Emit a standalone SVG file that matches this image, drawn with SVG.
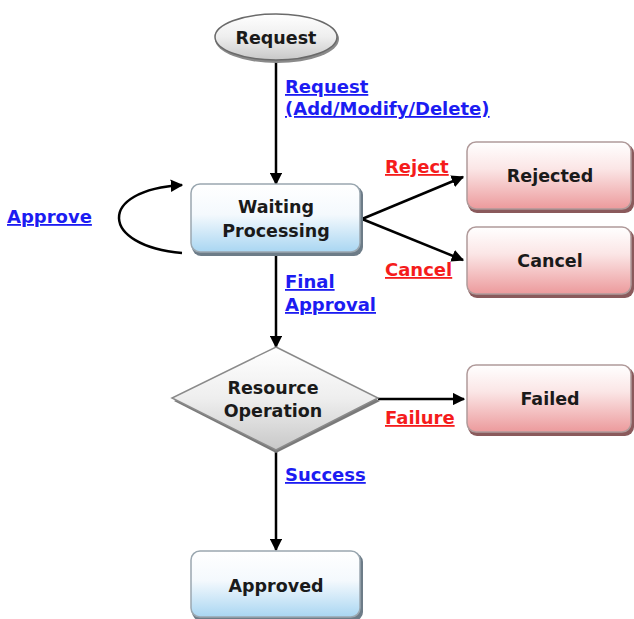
<svg xmlns="http://www.w3.org/2000/svg" width="634" height="619" viewBox="0 0 634 619">
<defs>
<linearGradient id="gBlue" x1="0" y1="0" x2="0" y2="1">
<stop offset="0" stop-color="#ffffff"/><stop offset="0.45" stop-color="#f4f9fd"/><stop offset="1" stop-color="#a9d6f2"/>
</linearGradient>
<linearGradient id="gRed" x1="0" y1="0" x2="0" y2="1">
<stop offset="0" stop-color="#ffffff"/><stop offset="0.4" stop-color="#fbe6e6"/><stop offset="1" stop-color="#ec9a9c"/>
</linearGradient>
<linearGradient id="gGray" x1="0" y1="0" x2="0" y2="1">
<stop offset="0" stop-color="#ffffff"/><stop offset="0.5" stop-color="#eeeeee"/><stop offset="1" stop-color="#c8c8c8"/>
</linearGradient>
<marker id="arr" viewBox="0 0 10 10" refX="9" refY="5" markerWidth="5" markerHeight="5" orient="auto" markerUnits="strokeWidth">
<path d="M0,0 L10,5 L0,10 z" fill="#000"/>
</marker>
</defs>
<style>
.node text{font-family:"DejaVu Sans",Verdana,sans-serif;font-weight:bold;font-size:17.5px;fill:#1a1a1a;text-anchor:middle}
.lbl{font-family:"DejaVu Sans",Verdana,sans-serif;font-weight:bold;font-size:18px;text-decoration:underline}
.blue{fill:#1c1cf2}
.red{fill:#f51c1c}
.edge{stroke:#000;stroke-width:2.5;fill:none;marker-end:url(#arr)}
.shB{fill:#6d7c88}
.shR{fill:#8a5a5c}
.shG{fill:#7a7a7a}
</style>

<g id="connectors">
<line class="edge" x1="276" y1="62" x2="276" y2="184"/>
<path class="edge" d="M182,253 C100,246 96,190 182,185"/>
<line class="edge" x1="362" y1="219" x2="463" y2="177"/>
<line class="edge" x1="362" y1="219" x2="463" y2="260"/>
<line class="edge" x1="276" y1="255" x2="276" y2="347"/>
<line class="edge" x1="378" y1="399" x2="464" y2="399"/>
<line class="edge" x1="276" y1="450" x2="276" y2="550"/>
</g>

<g id="labels">
<text class="lbl blue" x="285" y="93">Request</text>
<text class="lbl blue" x="285" y="115">(Add/Modify/Delete)</text>
<text class="lbl blue" x="7" y="223">Approve</text>
<text class="lbl red" x="385" y="173">Reject</text>
<text class="lbl red" x="385" y="276">Cancel</text>
<text class="lbl blue" x="285" y="288">Final</text>
<text class="lbl blue" x="285" y="311">Approval</text>
<text class="lbl red" x="385" y="424">Failure</text>
<text class="lbl blue" x="285" y="481">Success</text>
</g>

<g id="request" class="node">
<ellipse cx="277" cy="39" rx="62" ry="24" fill="#8a8a8a"/>
<ellipse cx="276" cy="37" rx="61" ry="23" fill="url(#gGray)" stroke="#6a6a6a" stroke-width="1.5"/>
<text x="276" y="44">Request</text>
</g>

<g id="waiting" class="node">
<rect class="shB" x="192" y="186" width="171" height="70" rx="9"/>
<rect x="191" y="184" width="169" height="68" rx="9" fill="url(#gBlue)" stroke="#9aa7b0" stroke-width="1.5"/>
<text x="276" y="213">Waiting</text>
<text x="276" y="237">Processing</text>
</g>

<g id="rejected" class="node">
<rect class="shR" x="468" y="144" width="166" height="69" rx="9"/>
<rect x="467" y="142" width="164" height="67" rx="9" fill="url(#gRed)" stroke="#b09a9a" stroke-width="1.5"/>
<text x="550" y="182">Rejected</text>
</g>

<g id="cancel" class="node">
<rect class="shR" x="468" y="229" width="166" height="69" rx="9"/>
<rect x="467" y="227" width="164" height="67" rx="9" fill="url(#gRed)" stroke="#b09a9a" stroke-width="1.5"/>
<text x="550" y="267">Cancel</text>
</g>

<g id="resource" class="node">
<polygon class="shG" points="276,350 380,401 276,453 174,401"/>
<polygon points="276,347 378,398 276,450 172,398" fill="url(#gGray)" stroke="#8a8a8a" stroke-width="1.5"/>
<text x="273" y="394">Resource</text>
<text x="273" y="417">Operation</text>
</g>

<g id="failed" class="node">
<rect class="shR" x="468" y="367" width="166" height="69" rx="9"/>
<rect x="467" y="365" width="164" height="67" rx="9" fill="url(#gRed)" stroke="#b09a9a" stroke-width="1.5"/>
<text x="550" y="405">Failed</text>
</g>

<g id="approved" class="node">
<rect class="shB" x="192" y="553" width="171" height="68" rx="9"/>
<rect x="191" y="551" width="169" height="66" rx="9" fill="url(#gBlue)" stroke="#9aa7b0" stroke-width="1.5"/>
<text x="276" y="592">Approved</text>
</g>
</svg>
